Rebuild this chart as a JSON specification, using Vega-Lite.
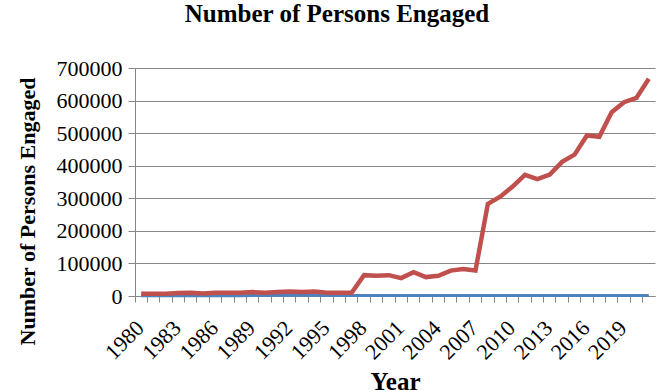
{
  "$schema": "https://vega.github.io/schema/vega-lite/v6.json",
  "width": 520,
  "height": 228,
  "autosize": "none",
  "padding": {"left": 135, "top": 68, "right": 14, "bottom": 94},
  "background": "white",
  "title": {
    "text": "Number of Persons Engaged",
    "font": "Liberation Serif",
    "fontSize": 25,
    "fontWeight": "bold",
    "color": "black",
    "anchor": "middle",
    "frame": "group",
    "dx": -58,
    "offset": 30
  },
  "data": {
    "values": [
      {"Year": 1980, "series": "Other", "value": 1000},
      {"Year": 1981, "series": "Other", "value": 1000},
      {"Year": 1982, "series": "Other", "value": 1000},
      {"Year": 1983, "series": "Other", "value": 1000},
      {"Year": 1984, "series": "Other", "value": 1000},
      {"Year": 1985, "series": "Other", "value": 1000},
      {"Year": 1986, "series": "Other", "value": 1000},
      {"Year": 1987, "series": "Other", "value": 1000},
      {"Year": 1988, "series": "Other", "value": 1000},
      {"Year": 1989, "series": "Other", "value": 1500},
      {"Year": 1990, "series": "Other", "value": 1500},
      {"Year": 1991, "series": "Other", "value": 2000},
      {"Year": 1992, "series": "Other", "value": 2500},
      {"Year": 1993, "series": "Other", "value": 2000},
      {"Year": 1994, "series": "Other", "value": 2500},
      {"Year": 1995, "series": "Other", "value": 1500},
      {"Year": 1996, "series": "Other", "value": 1500},
      {"Year": 1997, "series": "Other", "value": 1500},
      {"Year": 1998, "series": "Other", "value": 1500},
      {"Year": 1999, "series": "Other", "value": 1500},
      {"Year": 2000, "series": "Other", "value": 1500},
      {"Year": 2001, "series": "Other", "value": 1500},
      {"Year": 2002, "series": "Other", "value": 1500},
      {"Year": 2003, "series": "Other", "value": 1500},
      {"Year": 2004, "series": "Other", "value": 1500},
      {"Year": 2005, "series": "Other", "value": 1500},
      {"Year": 2006, "series": "Other", "value": 1500},
      {"Year": 2007, "series": "Other", "value": 1500},
      {"Year": 2008, "series": "Other", "value": 1500},
      {"Year": 2009, "series": "Other", "value": 1500},
      {"Year": 2010, "series": "Other", "value": 1500},
      {"Year": 2011, "series": "Other", "value": 1500},
      {"Year": 2012, "series": "Other", "value": 1500},
      {"Year": 2013, "series": "Other", "value": 1500},
      {"Year": 2014, "series": "Other", "value": 1500},
      {"Year": 2015, "series": "Other", "value": 1500},
      {"Year": 2016, "series": "Other", "value": 1500},
      {"Year": 2017, "series": "Other", "value": 1500},
      {"Year": 2018, "series": "Other", "value": 1500},
      {"Year": 2019, "series": "Other", "value": 1500},
      {"Year": 2020, "series": "Other", "value": 1500},
      {"Year": 2021, "series": "Other", "value": 1500},
      {"Year": 1980, "series": "Persons Engaged", "value": 7000},
      {"Year": 1981, "series": "Persons Engaged", "value": 7000},
      {"Year": 1982, "series": "Persons Engaged", "value": 7000},
      {"Year": 1983, "series": "Persons Engaged", "value": 9000},
      {"Year": 1984, "series": "Persons Engaged", "value": 10000},
      {"Year": 1985, "series": "Persons Engaged", "value": 8000},
      {"Year": 1986, "series": "Persons Engaged", "value": 10000},
      {"Year": 1987, "series": "Persons Engaged", "value": 10000},
      {"Year": 1988, "series": "Persons Engaged", "value": 10000},
      {"Year": 1989, "series": "Persons Engaged", "value": 12000},
      {"Year": 1990, "series": "Persons Engaged", "value": 10000},
      {"Year": 1991, "series": "Persons Engaged", "value": 12000},
      {"Year": 1992, "series": "Persons Engaged", "value": 14000},
      {"Year": 1993, "series": "Persons Engaged", "value": 12000},
      {"Year": 1994, "series": "Persons Engaged", "value": 14000},
      {"Year": 1995, "series": "Persons Engaged", "value": 10000},
      {"Year": 1996, "series": "Persons Engaged", "value": 10000},
      {"Year": 1997, "series": "Persons Engaged", "value": 10000},
      {"Year": 1998, "series": "Persons Engaged", "value": 64000},
      {"Year": 1999, "series": "Persons Engaged", "value": 62000},
      {"Year": 2000, "series": "Persons Engaged", "value": 64000},
      {"Year": 2001, "series": "Persons Engaged", "value": 55000},
      {"Year": 2002, "series": "Persons Engaged", "value": 73000},
      {"Year": 2003, "series": "Persons Engaged", "value": 58000},
      {"Year": 2004, "series": "Persons Engaged", "value": 62000},
      {"Year": 2005, "series": "Persons Engaged", "value": 78000},
      {"Year": 2006, "series": "Persons Engaged", "value": 83000},
      {"Year": 2007, "series": "Persons Engaged", "value": 78000},
      {"Year": 2008, "series": "Persons Engaged", "value": 283000},
      {"Year": 2009, "series": "Persons Engaged", "value": 305000},
      {"Year": 2010, "series": "Persons Engaged", "value": 336000},
      {"Year": 2011, "series": "Persons Engaged", "value": 372000},
      {"Year": 2012, "series": "Persons Engaged", "value": 359000},
      {"Year": 2013, "series": "Persons Engaged", "value": 373000},
      {"Year": 2014, "series": "Persons Engaged", "value": 412000},
      {"Year": 2015, "series": "Persons Engaged", "value": 434000},
      {"Year": 2016, "series": "Persons Engaged", "value": 493000},
      {"Year": 2017, "series": "Persons Engaged", "value": 489000},
      {"Year": 2018, "series": "Persons Engaged", "value": 564000},
      {"Year": 2019, "series": "Persons Engaged", "value": 595000},
      {"Year": 2020, "series": "Persons Engaged", "value": 608000},
      {"Year": 2021, "series": "Persons Engaged", "value": 667000}
    ]
  },
  "encoding": {
    "x": {
      "field": "Year",
      "type": "ordinal",
      "bandPosition": 0.5,
      "scale": {"type": "band", "paddingInner": 0, "paddingOuter": 0},
      "axis": {
        "title": "Year",
        "titleFont": "Liberation Serif",
        "titleFontSize": 25,
        "titleFontWeight": "bold",
        "titleColor": "black",
        "titleX": 260,
        "titleY": 93,
        "titleAlign": "center",
        "titleBaseline": "alphabetic",
        "labelFont": "Liberation Serif",
        "labelFontSize": 22,
        "labelColor": "black",
        "labelAngle": -45,
        "labelAlign": "right",
        "labelBaseline": "top",
        "labelExpr": "datum.value % 3 == 0 ? datum.value : ''",
        "labelOverlap": false,
        "labelPadding": 15,
        "labelOffset": -8,
        "bandPosition": 0,
        "tickColor": "#868686",
        "tickSize": 6,
        "domainColor": "#868686",
        "grid": false
      }
    },
    "y": {
      "field": "value",
      "type": "quantitative",
      "scale": {"domain": [0, 700000], "nice": false},
      "axis": {
        "title": "Number of Persons Engaged",
        "titleFont": "Liberation Serif",
        "titleFontSize": 22,
        "titleFontWeight": "bold",
        "titleColor": "black",
        "titleAngle": -90,
        "titleX": -108,
        "titleY": 143,
        "titleAlign": "center",
        "titleBaseline": "middle",
        "values": [0, 100000, 200000, 300000, 400000, 500000, 600000, 700000],
        "format": "d",
        "labelFont": "Liberation Serif",
        "labelFontSize": 22,
        "labelColor": "black",
        "labelPadding": 6,
        "labelOverlap": false,
        "labelFlush": false,
        "tickColor": "#868686",
        "tickSize": 7,
        "domainColor": "#868686",
        "grid": true,
        "gridColor": "#868686",
        "gridWidth": 1
      }
    }
  },
  "layer": [
    {
      "transform": [{"filter": "datum.series == 'Other'"}],
      "mark": {"type": "line", "color": "#4F81BD", "strokeWidth": 3}
    },
    {
      "transform": [{"filter": "datum.series == 'Persons Engaged'"}],
      "mark": {"type": "line", "color": "#C0504D", "strokeWidth": 4.5}
    }
  ],
  "config": {"view": {"stroke": null}}
}
